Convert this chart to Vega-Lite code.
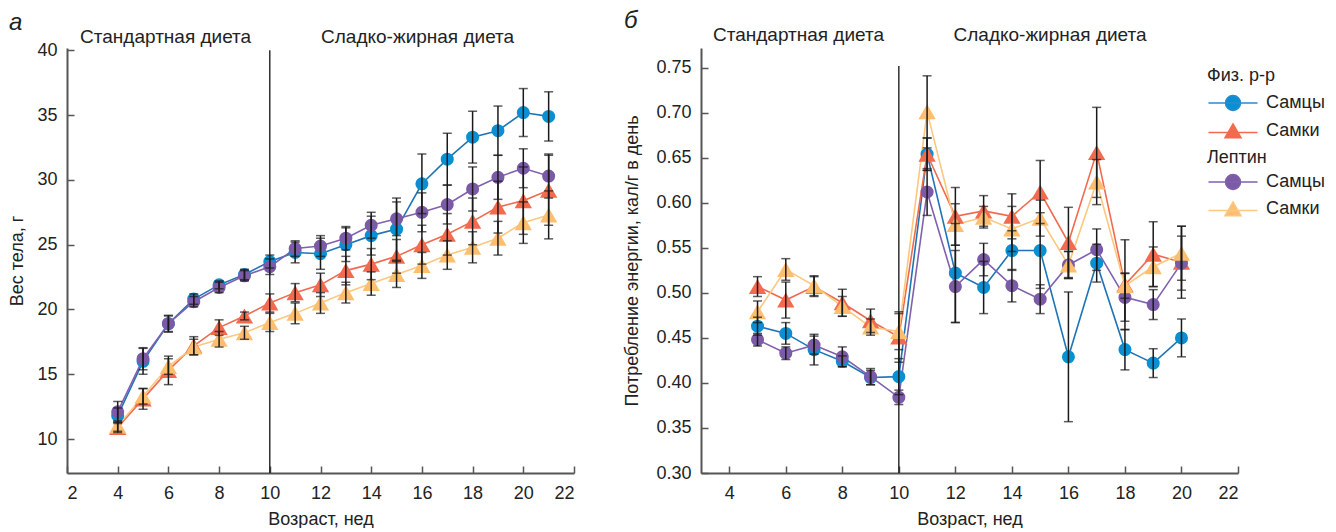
{
 "$schema": "https://vega.github.io/schema/vega-lite/v6.json",
 "padding": {"left": 8, "top": 8, "right": 0, "bottom": 0},
 "background": "white",
 "spacing": 48,
 "config": {
  "view": {"stroke": null},
  "font": "Liberation Sans",
  "axis": {"grid": false, "domainColor": "#555", "domainWidth": 2, "tickColor": "#555", "tickWidth": 1.5, "tickSize": -7, "labelFontSize": 18, "labelColor": "#222", "labelFont": "Liberation Sans", "titleFont": "Liberation Sans", "titleFontSize": 18, "titleFontWeight": "normal", "titleColor": "#222", "labelPadding": 17, "titlePadding": 10},
  "axisX": {"labelPadding": 18, "titlePadding": 8},
  "legend": {"titleFontSize": 18, "titleFontWeight": "normal", "titleColor": "#222", "labelFontSize": 18, "labelColor": "#222", "titleFont": "Liberation Sans", "labelFont": "Liberation Sans", "padding": 0},
  "title": {"font": "Liberation Sans", "fontSize": 24, "fontStyle": "italic", "fontWeight": "normal", "color": "#222", "anchor": "start", "frame": "bounds", "offset": -7}
 },
 "resolve": {"scale": {"fill": "independent", "color": "independent", "stroke": "independent"}, "legend": {"fill": "independent", "color": "independent"}},
 "datasets": {
  "weight": [
   {"t":"ф","k":"фм","w":4,"v":11.8,"e":0.6},{"t":"ф","k":"фм","w":5,"v":16.0,"e":1.0},{"t":"ф","k":"фм","w":6,"v":18.9,"e":0.65},{"t":"ф","k":"фм","w":7,"v":20.8,"e":0.4},{"t":"ф","k":"фм","w":8,"v":21.9,"e":0.3},{"t":"ф","k":"фм","w":9,"v":22.7,"e":0.4},{"t":"ф","k":"фм","w":10,"v":23.7,"e":0.5},{"t":"ф","k":"фм","w":11,"v":24.4,"e":0.8},{"t":"ф","k":"фм","w":12,"v":24.3,"e":1.2},{"t":"ф","k":"фм","w":13,"v":25.0,"e":1.3},{"t":"ф","k":"фм","w":14,"v":25.7,"e":1.5},{"t":"ф","k":"фм","w":15,"v":26.2,"e":2.4},{"t":"ф","k":"фм","w":16,"v":29.7,"e":2.3},{"t":"ф","k":"фм","w":17,"v":31.6,"e":2.0},{"t":"ф","k":"фм","w":18,"v":33.3,"e":2.0},{"t":"ф","k":"фм","w":19,"v":33.8,"e":1.9},{"t":"ф","k":"фм","w":20,"v":35.2,"e":1.85},{"t":"ф","k":"фм","w":21,"v":34.9,"e":1.9},
   {"t":"ф","k":"фж","w":4,"v":10.9,"e":0.4},{"t":"ф","k":"фж","w":5,"v":13.1,"e":0.8},{"t":"ф","k":"фж","w":6,"v":15.3,"e":1.1},{"t":"ф","k":"фж","w":7,"v":17.2,"e":0.7},{"t":"ф","k":"фж","w":8,"v":18.6,"e":0.6},{"t":"ф","k":"фж","w":9,"v":19.5,"e":0.3},{"t":"ф","k":"фж","w":10,"v":20.5,"e":0.7},{"t":"ф","k":"фж","w":11,"v":21.3,"e":0.7},{"t":"ф","k":"фж","w":12,"v":21.9,"e":0.9},{"t":"ф","k":"фж","w":13,"v":23.0,"e":1.1},{"t":"ф","k":"фж","w":14,"v":23.5,"e":1.2},{"t":"ф","k":"фж","w":15,"v":24.1,"e":1.3},{"t":"ф","k":"фж","w":16,"v":25.0,"e":1.5},{"t":"ф","k":"фж","w":17,"v":25.8,"e":1.6},{"t":"ф","k":"фж","w":18,"v":26.8,"e":1.8},{"t":"ф","k":"фж","w":19,"v":27.9,"e":2.0},{"t":"ф","k":"фж","w":20,"v":28.4,"e":2.6},{"t":"ф","k":"фж","w":21,"v":29.2,"e":2.7},
   {"t":"л","k":"лм","w":4,"v":12.1,"e":0.8},{"t":"л","k":"лм","w":5,"v":16.2,"e":0.85},{"t":"л","k":"лм","w":6,"v":18.9,"e":0.6},{"t":"л","k":"лм","w":7,"v":20.6,"e":0.4},{"t":"л","k":"лм","w":8,"v":21.7,"e":0.4},{"t":"л","k":"лм","w":9,"v":22.6,"e":0.4},{"t":"л","k":"лм","w":10,"v":23.3,"e":0.6},{"t":"л","k":"лм","w":11,"v":24.7,"e":0.6},{"t":"л","k":"лм","w":12,"v":24.9,"e":0.8},{"t":"л","k":"лм","w":13,"v":25.5,"e":0.9},{"t":"л","k":"лм","w":14,"v":26.5,"e":1.0},{"t":"л","k":"лм","w":15,"v":27.0,"e":1.3},{"t":"л","k":"лм","w":16,"v":27.5,"e":1.5},{"t":"л","k":"лм","w":17,"v":28.1,"e":1.5},{"t":"л","k":"лм","w":18,"v":29.3,"e":1.7},{"t":"л","k":"лм","w":19,"v":30.2,"e":1.7},{"t":"л","k":"лм","w":20,"v":30.9,"e":1.5},{"t":"л","k":"лм","w":21,"v":30.3,"e":1.7},
   {"t":"л","k":"лж","w":4,"v":11.0,"e":0.4},{"t":"л","k":"лж","w":5,"v":13.3,"e":0.6},{"t":"л","k":"лж","w":6,"v":15.6,"e":0.6},{"t":"л","k":"лж","w":7,"v":17.1,"e":0.6},{"t":"л","k":"лж","w":8,"v":17.7,"e":0.6},{"t":"л","k":"лж","w":9,"v":18.2,"e":0.5},{"t":"л","k":"лж","w":10,"v":19.0,"e":0.7},{"t":"л","k":"лж","w":11,"v":19.7,"e":0.8},{"t":"л","k":"лж","w":12,"v":20.5,"e":0.8},{"t":"л","k":"лж","w":13,"v":21.3,"e":0.8},{"t":"л","k":"лж","w":14,"v":22.0,"e":0.9},{"t":"л","k":"лж","w":15,"v":22.7,"e":1.0},{"t":"л","k":"лж","w":16,"v":23.4,"e":1.0},{"t":"л","k":"лж","w":17,"v":24.2,"e":1.1},{"t":"л","k":"лж","w":18,"v":24.8,"e":1.2},{"t":"л","k":"лж","w":19,"v":25.5,"e":1.3},{"t":"л","k":"лж","w":20,"v":26.7,"e":1.6},{"t":"л","k":"лж","w":21,"v":27.3,"e":1.85}
  ],
  "energy": [
   {"t":"ф","k":"фм","w":5,"v":0.463,"e":0.010},{"t":"ф","k":"фм","w":6,"v":0.455,"e":0.012},{"t":"ф","k":"фм","w":7,"v":0.437,"e":0.017},{"t":"ф","k":"фм","w":8,"v":0.424,"e":0.006},{"t":"ф","k":"фм","w":9,"v":0.406,"e":0.008},{"t":"ф","k":"фм","w":10,"v":0.407,"e":0.02},{"t":"ф","k":"фм","w":11,"v":0.654,"e":0.018},{"t":"ф","k":"фм","w":12,"v":0.522,"e":0.055},{"t":"ф","k":"фм","w":13,"v":0.506,"e":0.029},{"t":"ф","k":"фм","w":14,"v":0.547,"e":0.022},{"t":"ф","k":"фм","w":15,"v":0.547,"e":0.042},{"t":"ф","k":"фм","w":16,"v":0.429,"e":0.072},{"t":"ф","k":"фм","w":17,"v":0.533,"e":0.021},{"t":"ф","k":"фм","w":18,"v":0.437,"e":0.0225},{"t":"ф","k":"фм","w":19,"v":0.422,"e":0.016},{"t":"ф","k":"фм","w":20,"v":0.450,"e":0.021},
   {"t":"ф","k":"фж","w":5,"v":0.507,"e":0.011},{"t":"ф","k":"фж","w":6,"v":0.492,"e":0.020},{"t":"ф","k":"фж","w":7,"v":0.507,"e":0.011},{"t":"ф","k":"фж","w":8,"v":0.489,"e":0.015},{"t":"ф","k":"фж","w":9,"v":0.469,"e":0.013},{"t":"ф","k":"фж","w":10,"v":0.451,"e":0.028},{"t":"ф","k":"фж","w":11,"v":0.654,"e":0.018},{"t":"ф","k":"фж","w":12,"v":0.585,"e":0.032},{"t":"ф","k":"фж","w":13,"v":0.591,"e":0.017},{"t":"ф","k":"фж","w":14,"v":0.585,"e":0.025},{"t":"ф","k":"фж","w":15,"v":0.612,"e":0.035},{"t":"ф","k":"фж","w":16,"v":0.556,"e":0.039},{"t":"ф","k":"фж","w":17,"v":0.656,"e":0.05},{"t":"ф","k":"фж","w":18,"v":0.509,"e":0.05},{"t":"ф","k":"фж","w":19,"v":0.543,"e":0.036},{"t":"ф","k":"фж","w":20,"v":0.534,"e":0.04},
   {"t":"л","k":"лм","w":5,"v":0.448,"e":0.007},{"t":"л","k":"лм","w":6,"v":0.433,"e":0.007},{"t":"л","k":"лм","w":7,"v":0.442,"e":0.01},{"t":"л","k":"лм","w":8,"v":0.429,"e":0.011},{"t":"л","k":"лм","w":9,"v":0.407,"e":0.009},{"t":"л","k":"лм","w":10,"v":0.384,"e":0.008},{"t":"л","k":"лм","w":11,"v":0.612,"e":0.026},{"t":"л","k":"лм","w":12,"v":0.507,"e":0.04},{"t":"л","k":"лм","w":13,"v":0.537,"e":0.018},{"t":"л","k":"лм","w":14,"v":0.508,"e":0.018},{"t":"л","k":"лм","w":15,"v":0.493,"e":0.016},{"t":"л","k":"лм","w":16,"v":0.531,"e":0.015},{"t":"л","k":"лм","w":17,"v":0.548,"e":0.023},{"t":"л","k":"лм","w":18,"v":0.495,"e":0.0265},{"t":"л","k":"лм","w":19,"v":0.487,"e":0.0166},{"t":"л","k":"лм","w":20,"v":0.533,"e":0.03},
   {"t":"л","k":"лж","w":5,"v":0.479,"e":0.012},{"t":"л","k":"лж","w":6,"v":0.526,"e":0.012},{"t":"л","k":"лж","w":7,"v":0.508,"e":0.011},{"t":"л","k":"лж","w":8,"v":0.485,"e":0.011},{"t":"л","k":"лж","w":9,"v":0.462,"e":0.009},{"t":"л","k":"лж","w":10,"v":0.457,"e":0.02},{"t":"л","k":"лж","w":11,"v":0.701,"e":0.04},{"t":"л","k":"лж","w":12,"v":0.576,"e":0.023},{"t":"л","k":"лж","w":13,"v":0.584,"e":0.012},{"t":"л","k":"лж","w":14,"v":0.571,"e":0.025},{"t":"л","k":"лж","w":15,"v":0.583,"e":0.02},{"t":"л","k":"лж","w":16,"v":0.531,"e":0.015},{"t":"л","k":"лж","w":17,"v":0.623,"e":0.025},{"t":"л","k":"лж","w":18,"v":0.508,"e":0.014},{"t":"л","k":"лж","w":19,"v":0.529,"e":0.022},{"t":"л","k":"лж","w":20,"v":0.544,"e":0.03}
  ]
 },
 "hconcat": [
  {
   "width": 507, "height": 425,
   "title": {"text": "а"},
   "data": {"name": "weight"},
   "encoding": {
    "x": {"field": "w", "type": "quantitative", "scale": {"domain": [2, 22], "nice": false, "zero": false}, "axis": {"values": [2,4,6,8,10,12,14,16,18,20,22], "title": "Возраст, нед"}},
    "y": {"field": "v", "type": "quantitative", "scale": {"domain": [7.38, 40.18], "nice": false, "zero": false}, "axis": {"values": [10,15,20,25,30,35,40], "title": "Вес тела, г"}}
   },
   "layer": [
    {"data": {"values": [{"w": 10, "lo": 7.38, "hi": 40}]}, "mark": {"type": "rule", "color": "#111", "strokeWidth": 1.3}, "encoding": {"y": {"field": "lo", "type": "quantitative"}, "y2": {"field": "hi"}}},
    {"data": {"values": [{"w": 5.89, "v": 40.57, "lab": "Стандартная диета"}, {"w": 15.83, "v": 40.57, "lab": "Сладко-жирная диета"}]}, "mark": {"type": "text", "fontSize": 19, "baseline": "alphabetic", "align": "center", "color": "#222"}, "encoding": {"text": {"field": "lab"}}},
    {"mark": {"type": "line", "strokeWidth": 1.6}, "encoding": {"stroke": {"field": "k", "type": "nominal", "scale": {"domain": ["фм", "фж", "лм", "лж"], "range": ["#1f74b8", "#f06a4e", "#8061ae", "#fdc77f"]}, "legend": null}}},
    {"transform": [{"filter": "datum.k === 'фм'"}], "mark": {"type": "point", "shape": "circle", "size": 170, "filled": true, "opacity": 1, "strokeWidth": 0}, "encoding": {"fill": {"field": "k", "type": "nominal", "scale": {"domain": ["фм", "фж"], "range": ["#0a90d2", "#f26b4f"]}, "legend": null}}},
    {"transform": [{"filter": "datum.k === 'фж'"}], "mark": {"type": "point", "shape": "triangle-up", "size": 300, "filled": true, "opacity": 1, "strokeWidth": 0}, "encoding": {"fill": {"field": "k", "type": "nominal", "legend": null}}},
    {"transform": [{"filter": "datum.k === 'лм'"}], "mark": {"type": "point", "shape": "circle", "size": 170, "filled": true, "opacity": 1, "strokeWidth": 0}, "encoding": {"color": {"field": "k", "type": "nominal", "scale": {"domain": ["лм", "лж"], "range": ["#7b5aa6", "#fdbf6f"]}, "legend": null}}},
    {"transform": [{"filter": "datum.k === 'лж'"}], "mark": {"type": "point", "shape": "triangle-up", "size": 300, "filled": true, "opacity": 1, "strokeWidth": 0}, "encoding": {"color": {"field": "k", "type": "nominal", "legend": null}}},
    {"mark": {"type": "errorbar", "ticks": true, "size": 9, "thickness": 1.5, "color": "#1a1a1a"}, "encoding": {"y": {"field": "v", "type": "quantitative"}, "yError": {"field": "e"}}}
   ]
  },
  {
   "width": 537, "height": 425,
   "title": {"text": "б"},
   "data": {"name": "energy"},
   "encoding": {
    "x": {"field": "w", "type": "quantitative", "scale": {"domain": [3, 22], "nice": false, "zero": false}, "axis": {"values": [4,6,8,10,12,14,16,18,20,22], "title": "Возраст, нед"}},
    "y": {"field": "v", "type": "quantitative", "scale": {"domain": [0.3, 0.7719], "nice": false, "zero": false}, "axis": {"values": [0.3,0.35,0.4,0.45,0.5,0.55,0.6,0.65,0.7,0.75], "format": ".2f", "title": "Потребление энергии, кал/г в день", "titlePadding": 14}}
   },
   "layer": [
    {"data": {"values": [{"w": 10, "lo": 0.3, "hi": 0.752}]}, "mark": {"type": "rule", "color": "#111", "strokeWidth": 1.3}, "encoding": {"y": {"field": "lo", "type": "quantitative"}, "y2": {"field": "hi"}}},
    {"data": {"values": [{"w": 6.45, "v": 0.7797, "lab": "Стандартная диета"}, {"w": 15.35, "v": 0.7797, "lab": "Сладко-жирная диета"}]}, "mark": {"type": "text", "fontSize": 19, "baseline": "alphabetic", "align": "center", "color": "#222"}, "encoding": {"text": {"field": "lab"}}},
    {"mark": {"type": "line", "strokeWidth": 1.6}, "encoding": {"stroke": {"field": "k", "type": "nominal", "scale": {"domain": ["фм", "фж", "лм", "лж"], "range": ["#1f74b8", "#f06a4e", "#8061ae", "#fdc77f"]}, "legend": null}}},
    {"transform": [{"filter": "datum.k === 'фм'"}], "mark": {"type": "point", "shape": "circle", "size": 170, "filled": true, "opacity": 1, "strokeWidth": 0}, "encoding": {"fill": {"field": "k", "type": "nominal", "scale": {"domain": ["фм", "фж"], "range": ["#0a90d2", "#f26b4f"]},
      "legend": {"title": "Физ. р-р", "orient": "none", "legendX": 506, "legendY": 19, "symbolSize": 225, "symbolOffset": 17, "labelOffset": 24, "rowPadding": 6, "titlePadding": 9,
        "labelExpr": "datum.value === 'фм' ? 'Самцы' : 'Самки'",
        "encoding": {"symbols": {
          "shape": {"value": {"expr": "datum.value === 'фм' ? 'M-3.27,0H3.27M1,0A1,1 0 1,1 -1,0A1,1 0 1,1 1,0Z' : 'M-3.27,0.2H3.27M0,-0.95L1.07,0.9L-1.07,0.9Z'"}},
          "stroke": {"value": {"expr": "datum.value === 'фм' ? '#2a8ad0' : '#f26b4f'"}},
          "strokeWidth": {"value": 1.5}}}}}}},
    {"transform": [{"filter": "datum.k === 'фж'"}], "mark": {"type": "point", "shape": "triangle-up", "size": 300, "filled": true, "opacity": 1, "strokeWidth": 0}, "encoding": {"fill": {"field": "k", "type": "nominal"}}},
    {"transform": [{"filter": "datum.k === 'лм'"}], "mark": {"type": "point", "shape": "circle", "size": 170, "filled": true, "opacity": 1, "strokeWidth": 0}, "encoding": {"color": {"field": "k", "type": "nominal", "scale": {"domain": ["лм", "лж"], "range": ["#7b5aa6", "#fdbf6f"]},
      "legend": {"title": "Лептин", "orient": "none", "legendX": 506, "legendY": 101, "symbolSize": 225, "symbolOffset": 17, "labelOffset": 24, "rowPadding": 5, "titlePadding": 6,
        "labelExpr": "datum.value === 'лм' ? 'Самцы' : 'Самки'",
        "encoding": {"symbols": {
          "shape": {"value": {"expr": "datum.value === 'лм' ? 'M-3.27,0H3.27M1,0A1,1 0 1,1 -1,0A1,1 0 1,1 1,0Z' : 'M-3.27,0.2H3.27M0,-0.95L1.07,0.9L-1.07,0.9Z'"}},
          "stroke": {"value": {"expr": "datum.value === 'лм' ? '#8061ae' : '#fdc77f'"}},
          "strokeWidth": {"value": 1.5}}}}}}},
    {"transform": [{"filter": "datum.k === 'лж'"}], "mark": {"type": "point", "shape": "triangle-up", "size": 300, "filled": true, "opacity": 1, "strokeWidth": 0}, "encoding": {"color": {"field": "k", "type": "nominal"}}},
    {"mark": {"type": "errorbar", "ticks": true, "size": 9, "thickness": 1.5, "color": "#1a1a1a"}, "encoding": {"y": {"field": "v", "type": "quantitative"}, "yError": {"field": "e"}}}
   ]
  }
 ]
}
